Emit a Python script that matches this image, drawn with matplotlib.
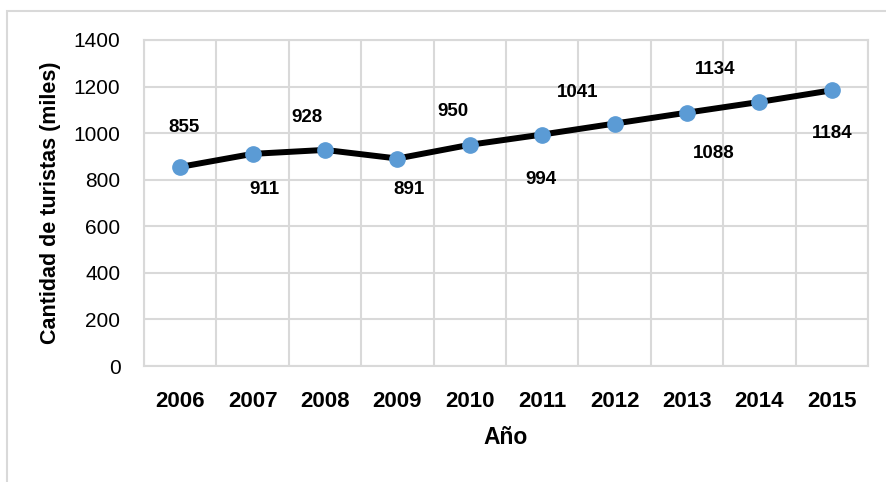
import matplotlib
matplotlib.use('Agg')
import matplotlib.pyplot as plt
from matplotlib.patches import Rectangle

years=['2006','2007','2008','2009','2010','2011','2012','2013','2014','2015']
turistas=[855,911,928,891,950,994,1041,1088,1134,1184]
# label offsets from the point, in pixels (dx, dy; dy positive = up)
offs=[(4,39),(12,-36),(-18,32),(12,-31),(-17,33),(-1,-45),(-37,31),(27,-41),(-44,32),(0,-43)]

plt.rcParams['font.family']=['Liberation Sans','DejaVu Sans']

fig=plt.figure(figsize=(8.86,4.82),dpi=100)
ax=fig.add_axes([144/886,1-366/482,(868-144)/886,(366-40)/482])

x=list(range(len(years)))
ax.plot(x,turistas,color='black',lw=4.3,zorder=3,solid_capstyle='round')
ax.plot(x,turistas,'o',color='#5B9BD5',ms=11,zorder=4)

for xi,v,o in zip(x,turistas,offs):
    ax.annotate(str(v),(xi,v),xytext=(o[0]*0.72,o[1]*0.72),textcoords='offset points',
                ha='center',va='center',fontsize=13.5,fontweight='bold')

ax.set_xlim(-0.5,len(years)-0.5)
ax.set_ylim(0,1400)
ax.set_yticks(range(0,1401,200))
ax.set_xticks(x)
ax.set_xticklabels(years,fontsize=16,fontweight='bold')
ax.set_xticks([i-0.5 for i in range(len(years)+1)],minor=True)
ax.tick_params(axis='y',labelsize=15,length=0,pad=17)
ax.tick_params(axis='x',which='both',length=0,pad=18)
ax.grid(False)
ax.grid(True,axis='y',color='#d9d9d9',lw=1.5)
ax.grid(True,axis='x',which='minor',color='#d9d9d9',lw=1.5)
for sp in ax.spines.values():
    sp.set_color('#d9d9d9')
    sp.set_linewidth(1.5)

ax.set_xlabel('Año',fontsize=16.5,fontweight='bold',labelpad=10)
ax.set_ylabel('Cantidad de turistas (miles)',fontsize=15.5,fontweight='bold',labelpad=9)

# outer chart border
fig.patches.append(Rectangle((7/886,-0.1),1.0,1-11/482+0.1,transform=fig.transFigure,
                             fill=False,edgecolor='#d9d9d9',lw=1.5,zorder=0))

fig.savefig('out.png',dpi=100)
